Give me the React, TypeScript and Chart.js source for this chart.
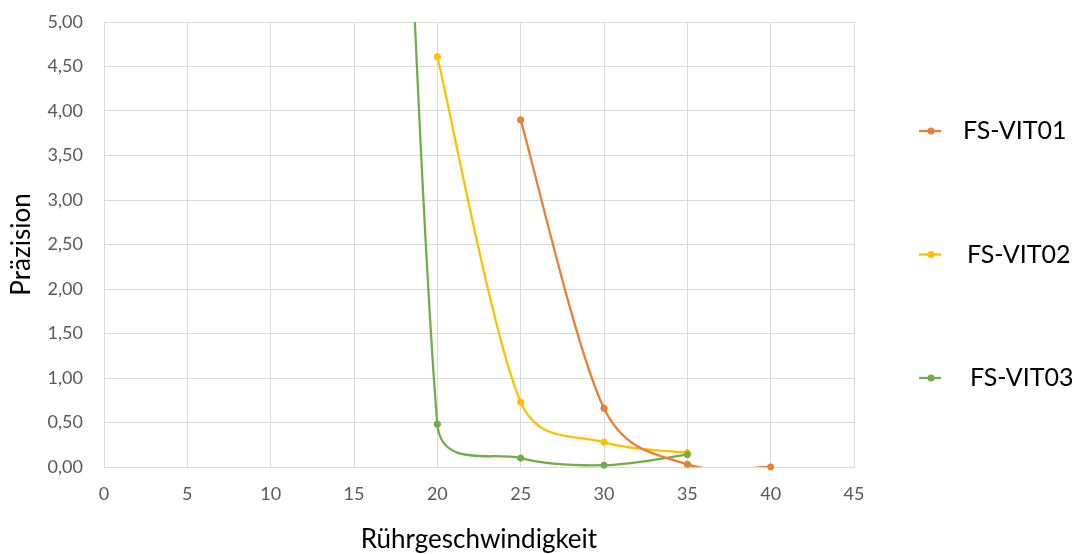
import React, { useEffect, useRef } from "react";
import { Chart, registerables } from "chart.js";

Chart.register(...registerables);

// ---- data ----
const seriesNames = ["FS-VIT01", "FS-VIT02", "FS-VIT03"];
const seriesColors = ["#ED7D31", "#FFC000", "#70AD47"];

const vit01X = [25, 30, 35, 40];
const vit01Y = [3.9, 0.66, 0.03, 0.0];

const vit02X = [20, 25, 30, 35];
const vit02Y = [4.61, 0.73, 0.28, 0.16];

const vit03X = [15, 20, 25, 30, 35];
const vit03Y = [23, 0.48, 0.1, 0.02, 0.14];

const xTicks = [0, 5, 10, 15, 20, 25, 30, 35, 40, 45];
const yTicks = [0, 0.5, 1, 1.5, 2, 2.5, 3, 3.5, 4, 4.5, 5];

const xTitle = "Rührgeschwindigkeit";
const yTitle = "Präzision";

const toPoints = (xs: number[], ys: number[]) => xs.map((x, i) => ({ x, y: ys[i] }));

const legendTextShift = [0, 4, 7];

// Office-style smoothing: control arms = (next - prev) / 6, limited to half the adjacent segment
const smoothFactor = 1 / 6;

const officeSmooth = {
  id: "officeSmooth",
  beforeDatasetDraw(chart: any, args: any) {
    const meta = args.meta;
    const line = meta.dataset;
    if (!line) return;
    if (typeof line.updateControlPoints === "function") {
      line.updateControlPoints(chart.chartArea, meta.iScale ? meta.iScale.axis : "x");
    }
    const pts = meta.data;
    const n = pts.length;
    for (let i = 0; i < n; i++) {
      const p = pts[i];
      const prev = pts[Math.max(i - 1, 0)];
      const next = pts[Math.min(i + 1, n - 1)];
      const ddx = next.x - prev.x;
      const ddy = next.y - prev.y;
      const dPN = Math.hypot(ddx, ddy) || 1;
      const dP = Math.hypot(p.x - prev.x, p.y - prev.y);
      const dN = Math.hypot(next.x - p.x, next.y - p.y);
      const fIn = Math.min(smoothFactor, dP / (2 * dPN));
      const fOut = Math.min(smoothFactor, dN / (2 * dPN));
      p.cp1x = p.x - ddx * fIn;
      p.cp1y = p.y - ddy * fIn;
      p.cp2x = p.x + ddx * fOut;
      p.cp2y = p.y + ddy * fOut;
    }
    line._path = undefined;
  },
};

const sideLegend = {
  id: "sideLegend",
  afterDraw(chart: any) {
    const { ctx, chartArea } = chart;
    ctx.save();
    chart.data.datasets.forEach((ds: any, i: number) => {
      const y = 131 + i * 123.5;
      const x0 = chartArea.right + 65;
      ctx.strokeStyle = ds.borderColor;
      ctx.lineWidth = 2.25;
      ctx.beginPath();
      ctx.moveTo(x0, y);
      ctx.lineTo(x0 + 22, y);
      ctx.stroke();
      ctx.fillStyle = ds.borderColor;
      ctx.beginPath();
      ctx.arc(x0 + 12, y, 3.5, 0, Math.PI * 2);
      ctx.fill();
      ctx.fillStyle = "#000000";
      ctx.font = "25px Lato";
      ctx.textAlign = "left";
      ctx.textBaseline = "middle";
      ctx.fillText(ds.label, chartArea.right + 109 + legendTextShift[i], y);
    });
    ctx.restore();
  },
};

const fullPoints = {
  id: "fullPoints",
  afterDatasetsDraw(chart: any) {
    const ctx = chart.ctx;
    ctx.save();
    chart.getSortedVisibleDatasetMetas().forEach((meta: any) => {
      meta.data.forEach((p: any) => p.draw(ctx, chart.chartArea));
    });
    ctx.restore();
  },
};

export default function App() {
  const ref = useRef<HTMLCanvasElement | null>(null);

  useEffect(() => {
    if (!ref.current) return;
    Chart.defaults.font.family = "Lato";
    const seriesX = [vit01X, vit02X, vit03X];
    const seriesY = [vit01Y, vit02Y, vit03Y];
    const chart = new Chart(ref.current, {
      type: "line",
      data: {
        datasets: seriesNames.map((name, i) => ({
          label: name,
          data: toPoints(seriesX[i], seriesY[i]),
          borderColor: seriesColors[i],
          backgroundColor: seriesColors[i],
          pointBackgroundColor: seriesColors[i],
          pointBorderColor: seriesColors[i],
          pointRadius: 3,
          pointBorderWidth: 1,
          borderWidth: 2.25,
          tension: 0.4,
          fill: false,
        })),
      },
      options: {
        animation: false,
        responsive: false,
        devicePixelRatio: 1,
        layout: { padding: { left: 0, right: 220, top: 22, bottom: 0 } },
        plugins: {
          legend: { display: false },
          tooltip: { enabled: false },
        },
        scales: {
          x: {
            type: "linear",
            min: 0,
            max: 45,
            afterBuildTicks: (scale: any) => {
              scale.ticks = xTicks.map((v) => ({ value: v }));
            },
            afterFit: (scale: any) => {
              scale.height = 87;
            },
            ticks: {
              color: "#595959",
              font: { size: 18 },
              padding: 16,
              maxRotation: 0,
              callback: (v: any) => String(v),
            },
            grid: { color: "#d9d9d9", lineWidth: 1, drawTicks: false },
            border: { color: "#d9d9d9", width: 1 },
            title: {
              display: true,
              text: xTitle,
              color: "#000000",
              font: { size: 26, lineHeight: 1.1 },
              padding: 0,
            },
          },
          y: {
            type: "linear",
            min: 0,
            max: 5,
            afterBuildTicks: (scale: any) => {
              scale.ticks = yTicks.map((v) => ({ value: v }));
            },
            afterFit: (scale: any) => {
              scale.width = 104;
              scale.paddingTop = 0;
              scale.paddingBottom = 0;
            },
            ticks: {
              color: "#595959",
              font: { size: 18 },
              padding: 21,
              callback: (v: any) => Number(v).toFixed(2).replace(".", ","),
            },
            grid: { color: "#d9d9d9", lineWidth: 1, drawTicks: false },
            border: { color: "#d9d9d9", width: 1 },
            title: {
              display: true,
              text: yTitle,
              color: "#000000",
              font: { size: 26, lineHeight: 1.2 },
              padding: { top: 6, bottom: 0 },
            },
          },
        },
      },
      plugins: [officeSmooth, fullPoints, sideLegend],
    } as any);
    return () => chart.destroy();
  }, []);

  return (
    <div style={{ position: "absolute", left: 0, top: 0, width: 1074, height: 554, background: "#fff" }}>
      <canvas ref={ref} width={1074} height={554} />
    </div>
  );
}
